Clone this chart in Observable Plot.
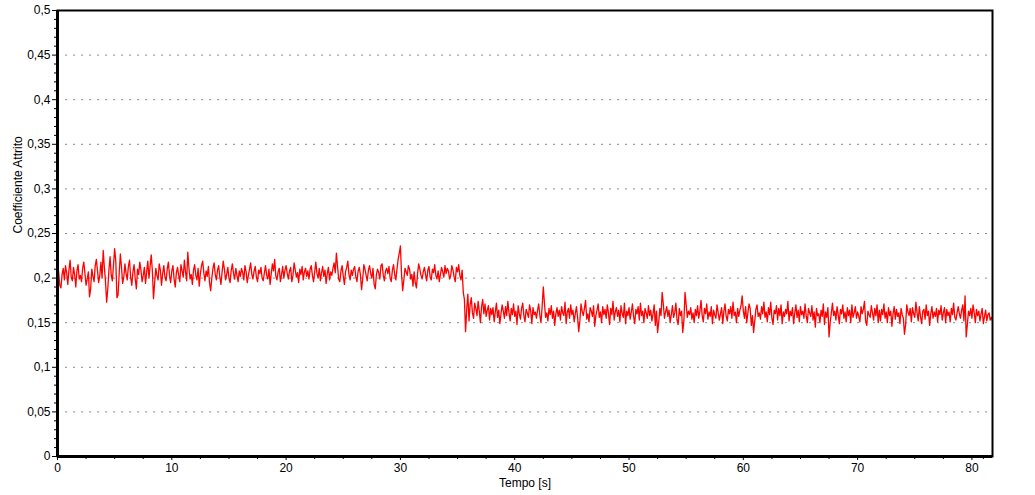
<!DOCTYPE html>
<html>
<head>
<meta charset="utf-8">
<script src="https://cdn.jsdelivr.net/npm/d3@7"></script>
<script src="https://cdn.jsdelivr.net/npm/@observablehq/plot@0.6"></script>
<style>
  html, body { margin: 0; padding: 0; background: #fff; }
  #chart { width: 1035px; height: 495px; overflow: hidden; }
</style>
</head>
<body>
<div id="chart"></div>
<script>
// Sampling step of the recorded signal (seconds)
const sampleStep = 0.1;

// Friction coefficient readings (thousandths), t = 0 .. 35.4 s
const frictionBefore = [
  215,207,192,189,204,211,198,214,206,193,209,220,201,197,212,204,190,208,215,199,
  203,196,211,218,205,192,199,207,179,188,210,202,196,214,221,208,195,203,218,200,
  231,212,196,173,188,209,224,203,197,215,233,219,178,181,206,227,212,194,201,216,
  205,198,213,220,201,192,207,215,199,188,210,204,218,209,196,203,212,194,207,219,
  200,213,226,208,177,195,211,203,198,216,209,192,205,214,201,197,210,218,203,195,
  208,214,199,190,206,212,203,196,215,208,201,220,207,197,229,211,199,204,193,209,
  215,203,198,211,191,205,214,219,206,197,208,202,213,195,186,200,211,217,204,198,
  209,214,201,193,207,219,210,198,204,212,200,195,209,216,205,199,211,203,196,208,
  202,211,206,198,214,207,195,203,210,217,204,199,208,213,201,196,209,205,212,200,
  197,206,214,203,199,210,193,205,216,208,221,202,198,207,211,196,204,213,200,209,
  214,205,199,208,212,196,203,217,209,201,206,195,210,204,213,198,207,211,202,208,
  199,210,214,203,196,207,218,205,200,211,197,206,213,202,209,194,205,212,198,207,
  203,211,217,206,228,213,199,196,208,214,202,193,207,212,219,204,198,209,203,210,
  213,201,196,208,212,204,187,199,215,210,203,197,209,214,205,200,211,193,188,204,
  210,206,199,214,216,203,197,208,211,205,213,200,196,209,215,204,198,210,221,228,
  236,204,186,198,211,207,203,214,210,199,204,191,207,195,189,205,216,210,203,199,
  207,212,204,197,209,213,201,198,210,206,215,203,199,208,196,204,212,207,201,214,
  205,211,208,199,203,214,209,201,196,212,207,215,203,198,209
];

// Friction coefficient readings (thousandths), t = 35.5 .. 81.8 s
const frictionAfter = [
  184,176,140,165,182,
  152,170,178,161,155,172,166,158,174,163,150,168,176,160,171,157,164,169,153,166,
  159,167,151,162,172,156,164,149,160,170,163,155,168,158,174,161,152,166,159,171,
  157,163,148,169,160,154,166,172,158,151,165,161,156,170,163,149,167,159,162,155,
  164,171,158,150,168,190,172,156,161,152,166,159,169,155,163,147,160,167,157,164,
  153,168,161,158,173,149,162,166,155,170,159,164,151,160,168,156,140,152,171,163,
  158,166,175,154,160,151,167,163,157,169,146,158,164,171,156,162,150,168,159,165,
  155,170,161,148,166,159,174,153,162,167,157,164,151,169,160,156,172,149,163,158,
  167,154,162,171,157,149,165,160,168,153,172,158,163,150,166,161,155,169,158,164,
  152,160,170,147,163,139,151,166,158,184,171,155,162,168,157,164,150,159,169,156,
  161,172,153,148,166,158,163,139,152,184,170,156,163,159,167,154,161,150,165,158,
  169,155,163,175,158,151,166,160,171,154,162,157,168,149,164,159,155,170,161,153,
  160,167,149,163,171,157,152,165,160,168,155,173,158,162,150,166,157,164,169,180,
  163,155,168,150,161,171,166,147,158,139,152,165,170,157,161,154,168,160,173,156,
  162,151,167,159,173,155,148,164,160,169,153,166,158,170,149,162,157,165,160,174,
  152,163,158,167,149,161,170,156,164,151,168,159,163,155,171,158,150,166,161,157,
  169,153,162,145,166,158,160,150,164,157,171,148,162,156,167,134,150,161,172,158,
  163,153,168,159,149,165,160,170,155,162,151,167,158,164,150,170,156,161,168,155,
  162,157,151,168,160,165,174,152,147,163,159,156,169,161,153,166,158,170,150,164,
  152,165,159,171,155,162,150,167,158,163,146,160,168,154,165,157,161,149,166,159,
  155,137,148,170,162,158,166,151,167,160,156,173,161,152,168,157,149,163,165,154,
  170,158,163,147,160,168,155,162,157,166,151,164,159,169,153,161,167,150,165,158,
  162,151,166,159,172,156,153,161,168,160,155,164,170,152,180,134,148,163,158,166,
  155,170,161,150,165,158,163,152,160,166,149,157,164,152,159,161,153,156,152
];

const xDomain = [0, 81.8];
const yDomain = [0, 0.5];
const xTicks = [0, 10, 20, 30, 40, 50, 60, 70, 80];
const xMinorTicks = [2.5,5,7.5,12.5,15,17.5,22.5,25,27.5,32.5,35,37.5,42.5,45,47.5,52.5,55,57.5,62.5,65,67.5,72.5,75,77.5,81];
const yTicks = [0, 0.05, 0.1, 0.15, 0.2, 0.25, 0.3, 0.35, 0.4, 0.45, 0.5];
const yTickLabels = ["0","0,05","0,1","0,15","0,2","0,25","0,3","0,35","0,4","0,45","0,5"];
const yMinorTicks = [0.01,0.02,0.03,0.04,0.06,0.07,0.08,0.09,0.11,0.12,0.13,0.14,0.16,0.17,0.18,0.19,0.21,0.22,0.23,0.24,0.26,0.27,0.28,0.29,0.31,0.32,0.33,0.34,0.36,0.37,0.38,0.39,0.41,0.42,0.43,0.44,0.46,0.47,0.48,0.49];
const xLabel = "Tempo [s]";
const yLabel = "Coefficiente Attrito";

const series = frictionBefore.concat(frictionAfter).map((v, i) => ({
  t: +(i * sampleStep).toFixed(1),
  c: v / 1000
}));

const chart = Plot.plot({
  width: 1035,
  height: 495,
  marginLeft: 57,
  marginRight: 43,
  marginTop: 10,
  marginBottom: 39,
  style: { fontFamily: "'Liberation Sans', Arial, Helvetica, sans-serif", fontSize: "12px", background: "#fff", color: "#000" },
  x: { domain: xDomain, label: null },
  y: { domain: yDomain, label: null },
  marks: [
    Plot.ruleY(yTicks, { stroke: "#8a8a8a", strokeWidth: 1, strokeDasharray: "2,6" }),
    Plot.line(series, { x: "t", y: "c", stroke: "#ff0000", strokeWidth: 1.3 }),
    Plot.axisY(yMinorTicks, { tickSize: 3, fill: "none", stroke: "#000" }),
    Plot.axisY(yTicks, { tickSize: 5, tickPadding: 2, tickFormat: d => yTickLabels[yTicks.indexOf(d)], fontSize: 12 }),
    Plot.axisX(xMinorTicks, { tickSize: 3, fill: "none", stroke: "#000" }),
    Plot.axisX(xTicks, { tickSize: 4, tickPadding: 3, tickFormat: d => String(d), fontSize: 12 }),
    Plot.frame({ stroke: "#000", strokeWidth: 2 }),
    Plot.ruleX([0], { stroke: "#000", strokeWidth: 3 }),
    Plot.ruleY([0], { stroke: "#000", strokeWidth: 3 }),
    Plot.text([xLabel], { frameAnchor: "bottom", dy: 27, lineAnchor: "middle", fontSize: 12, fill: "#000" }),
    Plot.text([yLabel], { frameAnchor: "left", dx: -39, rotate: -90, lineAnchor: "middle", fontSize: 12, fill: "#000" })
  ]
});

document.getElementById("chart").appendChild(chart);
</script>
</body>
</html>
